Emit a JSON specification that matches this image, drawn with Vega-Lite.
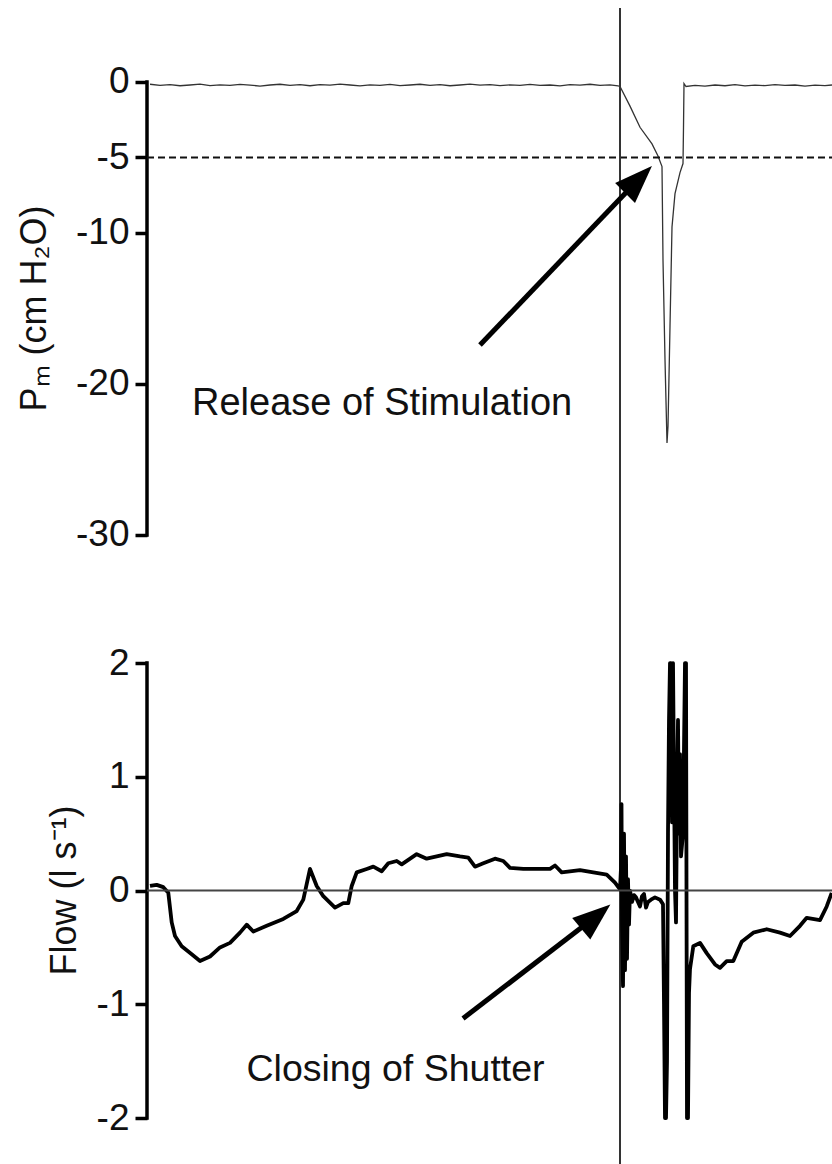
{
  "$schema": "https://vega.github.io/schema/vega-lite/v6.json",
  "width": 685,
  "height": 1164,
  "autosize": {"type": "none"},
  "padding": {"left": 147, "top": 0, "right": 0, "bottom": 0},
  "background": "white",
  "config": {"view": {"stroke": null}, "font": "Liberation Sans"},
  "datasets": {
    "pm": [
      {"t": 0.00, "pm": -0.15}, {"t": 0.10, "pm": -0.22}, {"t": 0.20, "pm": -0.18}, {"t": 0.30, "pm": -0.25},
      {"t": 0.40, "pm": -0.20}, {"t": 0.50, "pm": -0.14}, {"t": 0.60, "pm": -0.24}, {"t": 0.70, "pm": -0.19},
      {"t": 0.80, "pm": -0.23}, {"t": 0.90, "pm": -0.16}, {"t": 1.00, "pm": -0.21}, {"t": 1.10, "pm": -0.27},
      {"t": 1.20, "pm": -0.20}, {"t": 1.30, "pm": -0.15}, {"t": 1.40, "pm": -0.22}, {"t": 1.50, "pm": -0.18},
      {"t": 1.60, "pm": -0.25}, {"t": 1.70, "pm": -0.17}, {"t": 1.80, "pm": -0.21}, {"t": 1.90, "pm": -0.14},
      {"t": 2.00, "pm": -0.20}, {"t": 2.10, "pm": -0.26}, {"t": 2.20, "pm": -0.19}, {"t": 2.30, "pm": -0.22},
      {"t": 2.40, "pm": -0.16}, {"t": 2.50, "pm": -0.24}, {"t": 2.60, "pm": -0.20}, {"t": 2.70, "pm": -0.15},
      {"t": 2.80, "pm": -0.23}, {"t": 2.90, "pm": -0.18}, {"t": 3.00, "pm": -0.25}, {"t": 3.10, "pm": -0.20},
      {"t": 3.20, "pm": -0.14}, {"t": 3.30, "pm": -0.21}, {"t": 3.40, "pm": -0.17}, {"t": 3.50, "pm": -0.24},
      {"t": 3.60, "pm": -0.19}, {"t": 3.70, "pm": -0.22}, {"t": 3.80, "pm": -0.16}, {"t": 3.90, "pm": -0.23},
      {"t": 4.00, "pm": -0.20}, {"t": 4.10, "pm": -0.26}, {"t": 4.20, "pm": -0.18}, {"t": 4.30, "pm": -0.21},
      {"t": 4.40, "pm": -0.15}, {"t": 4.50, "pm": -0.22}, {"t": 4.60, "pm": -0.19}, {"t": 4.68, "pm": -0.25},
      {"t": 4.70, "pm": -0.30}, {"t": 4.80, "pm": -1.6}, {"t": 4.90, "pm": -3.0}, {"t": 5.02, "pm": -4.1},
      {"t": 5.08, "pm": -4.9}, {"t": 5.12, "pm": -5.6}, {"t": 5.13, "pm": -11.8}, {"t": 5.15, "pm": -18.4},
      {"t": 5.17, "pm": -23.9}, {"t": 5.18, "pm": -22.8}, {"t": 5.20, "pm": -16.2}, {"t": 5.22, "pm": -9.6},
      {"t": 5.25, "pm": -7.4}, {"t": 5.30, "pm": -6.0}, {"t": 5.33, "pm": -5.4}, {"t": 5.335, "pm": -3.0},
      {"t": 5.34, "pm": -0.1}, {"t": 5.36, "pm": -0.3}, {"t": 5.45, "pm": -0.22}, {"t": 5.55, "pm": -0.28},
      {"t": 5.65, "pm": -0.20}, {"t": 5.75, "pm": -0.25}, {"t": 5.85, "pm": -0.18}, {"t": 5.95, "pm": -0.26},
      {"t": 6.05, "pm": -0.21}, {"t": 6.15, "pm": -0.24}, {"t": 6.25, "pm": -0.17}, {"t": 6.35, "pm": -0.23},
      {"t": 6.45, "pm": -0.20}, {"t": 6.55, "pm": -0.27}, {"t": 6.65, "pm": -0.21}, {"t": 6.75, "pm": -0.24},
      {"t": 6.82, "pm": -0.20}
    ],
    "flow": [
      {"t": 0.00, "flow": 0.04}, {"t": 0.067, "flow": 0.05}, {"t": 0.133, "flow": 0.03}, {"t": 0.183, "flow": -0.02},
      {"t": 0.217, "flow": -0.28}, {"t": 0.25, "flow": -0.40}, {"t": 0.317, "flow": -0.49}, {"t": 0.417, "flow": -0.56},
      {"t": 0.50, "flow": -0.62}, {"t": 0.60, "flow": -0.58}, {"t": 0.70, "flow": -0.50}, {"t": 0.80, "flow": -0.46},
      {"t": 0.90, "flow": -0.37}, {"t": 0.967, "flow": -0.30}, {"t": 1.033, "flow": -0.36}, {"t": 1.167, "flow": -0.31},
      {"t": 1.333, "flow": -0.25}, {"t": 1.467, "flow": -0.18}, {"t": 1.533, "flow": -0.08}, {"t": 1.60, "flow": 0.19},
      {"t": 1.667, "flow": 0.04}, {"t": 1.733, "flow": -0.05}, {"t": 1.85, "flow": -0.15}, {"t": 1.933, "flow": -0.11},
      {"t": 1.983, "flow": -0.11}, {"t": 2.017, "flow": 0.04}, {"t": 2.067, "flow": 0.16}, {"t": 2.167, "flow": 0.19},
      {"t": 2.233, "flow": 0.21}, {"t": 2.317, "flow": 0.17}, {"t": 2.383, "flow": 0.24}, {"t": 2.467, "flow": 0.26},
      {"t": 2.517, "flow": 0.23}, {"t": 2.667, "flow": 0.32}, {"t": 2.767, "flow": 0.28}, {"t": 2.967, "flow": 0.32},
      {"t": 3.10, "flow": 0.30}, {"t": 3.183, "flow": 0.29}, {"t": 3.25, "flow": 0.21}, {"t": 3.333, "flow": 0.24},
      {"t": 3.45, "flow": 0.28}, {"t": 3.533, "flow": 0.26}, {"t": 3.60, "flow": 0.20}, {"t": 3.733, "flow": 0.19},
      {"t": 4.00, "flow": 0.19}, {"t": 4.05, "flow": 0.22}, {"t": 4.117, "flow": 0.16}, {"t": 4.30, "flow": 0.18},
      {"t": 4.433, "flow": 0.16}, {"t": 4.567, "flow": 0.14}, {"t": 4.65, "flow": 0.07}, {"t": 4.70, "flow": 0.01},
      {"t": 4.71, "flow": 0.2}, {"t": 4.715, "flow": 0.76}, {"t": 4.72, "flow": -0.3}, {"t": 4.73, "flow": -0.84},
      {"t": 4.74, "flow": 0.5}, {"t": 4.75, "flow": -0.7}, {"t": 4.76, "flow": 0.3}, {"t": 4.77, "flow": -0.6},
      {"t": 4.78, "flow": 0.1}, {"t": 4.79, "flow": -0.3}, {"t": 4.80, "flow": 0.0}, {"t": 4.82, "flow": -0.1},
      {"t": 4.84, "flow": -0.04}, {"t": 4.86, "flow": -0.06}, {"t": 4.88, "flow": -0.1}, {"t": 4.90, "flow": -0.14},
      {"t": 4.92, "flow": -0.05}, {"t": 4.94, "flow": -0.03}, {"t": 4.96, "flow": -0.15}, {"t": 4.98, "flow": -0.1},
      {"t": 5.01, "flow": -0.08}, {"t": 5.05, "flow": -0.06}, {"t": 5.10, "flow": -0.08}, {"t": 5.13, "flow": -0.12},
      {"t": 5.14, "flow": -1.0}, {"t": 5.15, "flow": -2.0}, {"t": 5.16, "flow": -2.0}, {"t": 5.17, "flow": -1.5},
      {"t": 5.18, "flow": 0.5}, {"t": 5.19, "flow": 1.5}, {"t": 5.20, "flow": 2.0}, {"t": 5.21, "flow": 2.0},
      {"t": 5.22, "flow": 0.6}, {"t": 5.23, "flow": 2.0}, {"t": 5.24, "flow": 1.0}, {"t": 5.25, "flow": 0.0},
      {"t": 5.26, "flow": -0.28}, {"t": 5.27, "flow": 0.8}, {"t": 5.28, "flow": 1.5}, {"t": 5.29, "flow": 0.5},
      {"t": 5.30, "flow": 1.2}, {"t": 5.31, "flow": 0.3}, {"t": 5.33, "flow": 0.5}, {"t": 5.35, "flow": 2.0},
      {"t": 5.36, "flow": 2.0}, {"t": 5.37, "flow": -2.0}, {"t": 5.38, "flow": -2.0}, {"t": 5.39, "flow": -0.9},
      {"t": 5.40, "flow": -0.69}, {"t": 5.433, "flow": -0.49}, {"t": 5.50, "flow": -0.46}, {"t": 5.567, "flow": -0.55},
      {"t": 5.65, "flow": -0.65}, {"t": 5.70, "flow": -0.68}, {"t": 5.767, "flow": -0.62}, {"t": 5.833, "flow": -0.62},
      {"t": 5.917, "flow": -0.45}, {"t": 6.033, "flow": -0.37}, {"t": 6.167, "flow": -0.34}, {"t": 6.30, "flow": -0.37},
      {"t": 6.40, "flow": -0.40}, {"t": 6.50, "flow": -0.31}, {"t": 6.567, "flow": -0.24}, {"t": 6.70, "flow": -0.26},
      {"t": 6.767, "flow": -0.14}, {"t": 6.817, "flow": -0.02}
    ],
    "pmAxisLine": [{"t": -0.03, "pm": 0, "pm2": -30}],
    "pmThreshold": [{"t": -0.03, "t2": 6.82, "pm": -5}],
    "event": [{"t": 4.70, "pm": 4.9, "pm2": -71.66}],
    "pmNote": [{"t": 0.42, "pm": -22.05, "label": "Release of Stimulation"}],
    "pmArrow": [{"t": 3.30, "pm": -17.42, "t2": 4.885, "pm2": -6.46}],
    "flowAxisLine": [{"t": -0.03, "flow": 2, "flow2": -2}],
    "flowZero": [{"t": -0.03, "t2": 6.82, "flow": 0}],
    "flowNote": [{"t": 0.965, "flow": -1.676, "label": "Closing of Shutter"}],
    "flowArrow": [{"t": 3.13, "flow": -1.125, "t2": 4.458, "flow2": -0.229}]
  },
  "encoding": {
    "x": {"field": "t", "type": "quantitative", "scale": {"domain": [-0.03, 6.82], "nice": false, "zero": false}, "axis": null}
  },
  "resolve": {"scale": {"y": "independent"}},
  "layer": [
    {
      "data": {"name": "pm"},
      "mark": {"type": "line", "color": "#333333", "strokeWidth": 1.3},
      "encoding": {
        "y": {
          "field": "pm", "type": "quantitative",
          "scale": {"domain": [-71.66, 5.43], "nice": false, "zero": false},
          "axis": {
            "orient": "left", "title": "Pₘ (cm H₂O)", "values": [0, -5, -10, -20, -30],
            "domain": false, "grid": false, "tickSize": 12, "tickWidth": 3.5, "tickColor": "#000000",
            "labelExpr": "datum.value < 0 ? '-' + abs(datum.value) : '' + datum.value",
            "labelFont": "Liberation Sans", "labelFontSize": 37, "labelColor": "#111111", "labelPadding": 6,
            "labelOverlap": false, "labelFlush": false,
            "titleFont": "Liberation Sans", "titleFontSize": 36, "titleFontWeight": "normal", "titleColor": "#111111",
            "titleAngle": -90, "titleAlign": "center", "titleBaseline": "bottom", "titleX": -94, "titleY": 308
          }
        }
      }
    },
    {
      "data": {"name": "pmAxisLine"},
      "mark": {"type": "rule", "color": "#000000", "strokeWidth": 3.5, "strokeCap": "square"},
      "encoding": {
        "y": {"field": "pm", "type": "quantitative", "scale": {"domain": [-71.66, 5.43], "nice": false, "zero": false}, "axis": null},
        "y2": {"field": "pm2"}
      }
    },
    {
      "data": {"name": "pmThreshold"},
      "mark": {"type": "rule", "color": "#111111", "strokeWidth": 2, "strokeDash": [7, 4]},
      "encoding": {
        "x2": {"field": "t2"},
        "y": {"field": "pm", "type": "quantitative", "scale": {"domain": [-71.66, 5.43], "nice": false, "zero": false}, "axis": null}
      }
    },
    {
      "data": {"name": "event"},
      "mark": {"type": "rule", "color": "#333333", "strokeWidth": 2},
      "encoding": {
        "y": {"field": "pm", "type": "quantitative", "scale": {"domain": [-71.66, 5.43], "nice": false, "zero": false}, "axis": null},
        "y2": {"field": "pm2"}
      }
    },
    {
      "data": {"name": "pmNote"},
      "mark": {"type": "text", "align": "left", "baseline": "alphabetic", "font": "Liberation Sans", "fontSize": 38, "color": "#111111"},
      "encoding": {
        "y": {"field": "pm", "type": "quantitative", "scale": {"domain": [-71.66, 5.43], "nice": false, "zero": false}, "axis": null},
        "text": {"field": "label"}
      }
    },
    {
      "data": {"name": "pmArrow"},
      "mark": {"type": "rule", "color": "#000000", "strokeWidth": 5},
      "encoding": {
        "x2": {"field": "t2"},
        "y": {"field": "pm", "type": "quantitative", "scale": {"domain": [-71.66, 5.43], "nice": false, "zero": false}, "axis": null},
        "y2": {"field": "pm2"}
      }
    },
    {
      "data": {"name": "pmArrow"},
      "mark": {"type": "point", "shape": "M0,-1L-0.74,1L0.74,1Z", "size": 1444, "angle": 45, "filled": true, "color": "#000000", "opacity": 1, "strokeWidth": 0},
      "encoding": {
        "x": {"field": "t2", "type": "quantitative", "scale": {"domain": [-0.03, 6.82], "nice": false, "zero": false}, "axis": null},
        "y": {"field": "pm2", "type": "quantitative", "scale": {"domain": [-71.66, 5.43], "nice": false, "zero": false}, "axis": null}
      }
    },
    {
      "data": {"name": "flow"},
      "mark": {"type": "line", "color": "#000000", "strokeWidth": 3.8, "strokeJoin": "round"},
      "encoding": {
        "y": {
          "field": "flow", "type": "quantitative",
          "scale": {"domain": [-2.404, 7.829], "nice": false, "zero": false},
          "axis": {
            "orient": "left", "title": "Flow (l s⁻¹)", "values": [2, 1, 0, -1, -2],
            "domain": false, "grid": false, "tickSize": 12, "tickWidth": 3.5, "tickColor": "#000000",
            "labelExpr": "datum.value < 0 ? '-' + abs(datum.value) : '' + datum.value",
            "labelFont": "Liberation Sans", "labelFontSize": 37, "labelColor": "#111111", "labelPadding": 6,
            "labelOverlap": false, "labelFlush": false,
            "titleFont": "Liberation Sans", "titleFontSize": 36, "titleFontWeight": "normal", "titleColor": "#111111",
            "titleAngle": -90, "titleAlign": "center", "titleBaseline": "bottom", "titleX": -64, "titleY": 890
          }
        }
      }
    },
    {
      "data": {"name": "flowAxisLine"},
      "mark": {"type": "rule", "color": "#000000", "strokeWidth": 3.5, "strokeCap": "square"},
      "encoding": {
        "y": {"field": "flow", "type": "quantitative", "scale": {"domain": [-2.404, 7.829], "nice": false, "zero": false}, "axis": null},
        "y2": {"field": "flow2"}
      }
    },
    {
      "data": {"name": "flowZero"},
      "mark": {"type": "rule", "color": "#444444", "strokeWidth": 2},
      "encoding": {
        "x2": {"field": "t2"},
        "y": {"field": "flow", "type": "quantitative", "scale": {"domain": [-2.404, 7.829], "nice": false, "zero": false}, "axis": null}
      }
    },
    {
      "data": {"name": "flowNote"},
      "mark": {"type": "text", "align": "left", "baseline": "alphabetic", "font": "Liberation Sans", "fontSize": 37.5, "color": "#111111"},
      "encoding": {
        "y": {"field": "flow", "type": "quantitative", "scale": {"domain": [-2.404, 7.829], "nice": false, "zero": false}, "axis": null},
        "text": {"field": "label"}
      }
    },
    {
      "data": {"name": "flowArrow"},
      "mark": {"type": "rule", "color": "#000000", "strokeWidth": 5},
      "encoding": {
        "x2": {"field": "t2"},
        "y": {"field": "flow", "type": "quantitative", "scale": {"domain": [-2.404, 7.829], "nice": false, "zero": false}, "axis": null},
        "y2": {"field": "flow2"}
      }
    },
    {
      "data": {"name": "flowArrow"},
      "mark": {"type": "point", "shape": "M0,-1L-0.74,1L0.74,1Z", "size": 1444, "angle": 50, "filled": true, "color": "#000000", "opacity": 1, "strokeWidth": 0},
      "encoding": {
        "x": {"field": "t2", "type": "quantitative", "scale": {"domain": [-0.03, 6.82], "nice": false, "zero": false}, "axis": null},
        "y": {"field": "flow2", "type": "quantitative", "scale": {"domain": [-2.404, 7.829], "nice": false, "zero": false}, "axis": null}
      }
    }
  ]
}
